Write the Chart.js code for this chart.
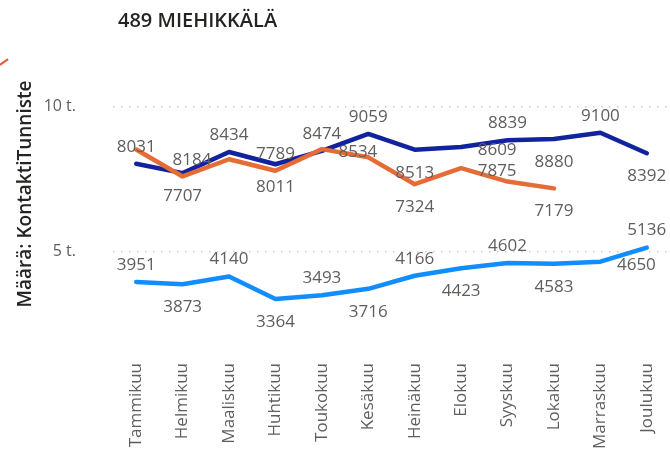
<!DOCTYPE html>
<html>
<head>
<meta charset="utf-8">
<script src="https://cdn.jsdelivr.net/npm/chart.js@4"></script>
<style>
  html, body { margin: 0; padding: 0; background: #fff; }
  #wrap { position: relative; width: 670px; height: 449px; overflow: hidden; }
  #otsikko { position: absolute; left: 118px; top: 7px; font: 600 20px/26px 'Open Sans', sans-serif; color: #252423; white-space: nowrap; }
  #ytitle { position: absolute; left: 24px; top: 194px; transform: translate(-50%, -50%) rotate(-90deg); font: 600 19px/24px 'Open Sans', sans-serif; color: #252423; white-space: nowrap; }
  #merkki { position: absolute; left: -1px; top: 61px; width: 10px; height: 2px; background: #e8583a; transform: rotate(-35deg); }
</style>
</head>
<body>
<div id="wrap">
  <div id="merkki"></div>
  <div id="otsikko">489 MIEHIKKÄLÄ</div>
  <div id="ytitle">Määrä: KontaktiTunniste</div>
  <canvas id="kaavio" width="670" height="449"></canvas>
</div>
<script>
const kuukaudet = ['Tammikuu', 'Helmikuu', 'Maaliskuu', 'Huhtikuu', 'Toukokuu', 'Kesäkuu',
                   'Heinäkuu', 'Elokuu', 'Syyskuu', 'Lokakuu', 'Marraskuu', 'Joulukuu'];
const tummaSarja = [8031, 7707, 8434, 8011, 8474, 9059, 8513, 8609, 8839, 8880, 9100, 8392];
const oranssiSarja = [8520, 7590, 8184, 7789, 8534, 8250, 7324, 7875, 7415, 7179, null, null];
const vaaleaSarja = [3951, 3873, 4140, 3364, 3493, 3716, 4166, 4423, 4602, 4583, 4650, 5136];
const yTicks = [5000, 10000];

// arvojen paikat: a = yläpuolella, b = alapuolella, r/l = sivulla, - = piilossa
const paikat = {
  oranssi: ['-', '-', 'l', 'a', 'r', '-', 'b', 'r', '-', 'b', '-', '-'],
  tumma:   ['a', 'b', 'a', 'b', 'a', 'a', 'b', 'r', 'a', 'b', 'a', 'b'],
  vaalea:  ['a', 'b', 'a', 'b', 'a', 'b', 'a', 'b', 'a', 'b', 'r', 'a']
};
const siirrot = { a: [0, -17], b: [0, 23], r: [36, 3], l: [-37, 1] };

const arvoPlugin = {
  id: 'arvot',
  afterDatasetsDraw(chart) {
    const ctx = chart.ctx;
    ctx.save();
    ctx.font = "17px 'Open Sans', sans-serif";
    ctx.fillStyle = '#605E5C';
    ctx.textAlign = 'center';
    ctx.textBaseline = 'middle';
    chart.data.datasets.forEach((ds, i) => {
      const meta = chart.getDatasetMeta(i);
      meta.data.forEach((pt, j) => {
        const p = paikat[ds.avain][j];
        if (!p || p === '-' || ds.data[j] == null) return;
        const s = siirrot[p];
        ctx.fillText(ds.data[j], pt.x + s[0], pt.y + s[1]);
      });
    });
    ctx.restore();
  }
};

Chart.defaults.font.family = "'Open Sans', sans-serif";

new Chart(document.getElementById('kaavio'), {
  type: 'line',
  data: {
    labels: kuukaudet,
    datasets: [
      { avain: 'oranssi', data: oranssiSarja, borderColor: '#E66C37' },
      { avain: 'tumma', data: tummaSarja, borderColor: '#12239E' },
      { avain: 'vaalea', data: vaaleaSarja, borderColor: '#118DFF' }
    ].map(d => Object.assign(d, {
      borderWidth: 4.5,
      pointRadius: 0,
      tension: 0,
      borderJoinStyle: 'round',
      borderCapStyle: 'round',
      fill: false
    }))
  },
  options: {
    responsive: false,
    animation: false,
    layout: { padding: { top: 95, right: 0, left: 0, bottom: 0 } },
    plugins: { legend: { display: false }, tooltip: { enabled: false } },
    scales: {
      x: {
        offset: true,
        grid: { display: false, drawTicks: false },
        border: { display: false },
        ticks: {
          autoSkip: false,
          minRotation: 90,
          maxRotation: 90,
          padding: 23,
          color: '#605E5C',
          font: { size: 17 }
        },
        afterFit(scale) {
          scale.height = 109;
          scale.paddingLeft = 0;
          scale.paddingRight = 0;
        }
      },
      y: {
        min: 1950,
        max: 10400,
        afterBuildTicks(scale) { scale.ticks = yTicks.map(v => ({ value: v })); },
        afterFit(scale) { scale.width = 113; },
        grid: { color: '#cccccc', lineWidth: 1.5, drawTicks: false },
        border: { display: false, dash: [1.5, 6.5] },
        ticks: {
          padding: 37,
          color: '#605E5C',
          font: { size: 16 },
          callback: v => (v / 1000) + ' t.'
        }
      }
    }
  },
  plugins: [arvoPlugin]
});
</script>
</body>
</html>
